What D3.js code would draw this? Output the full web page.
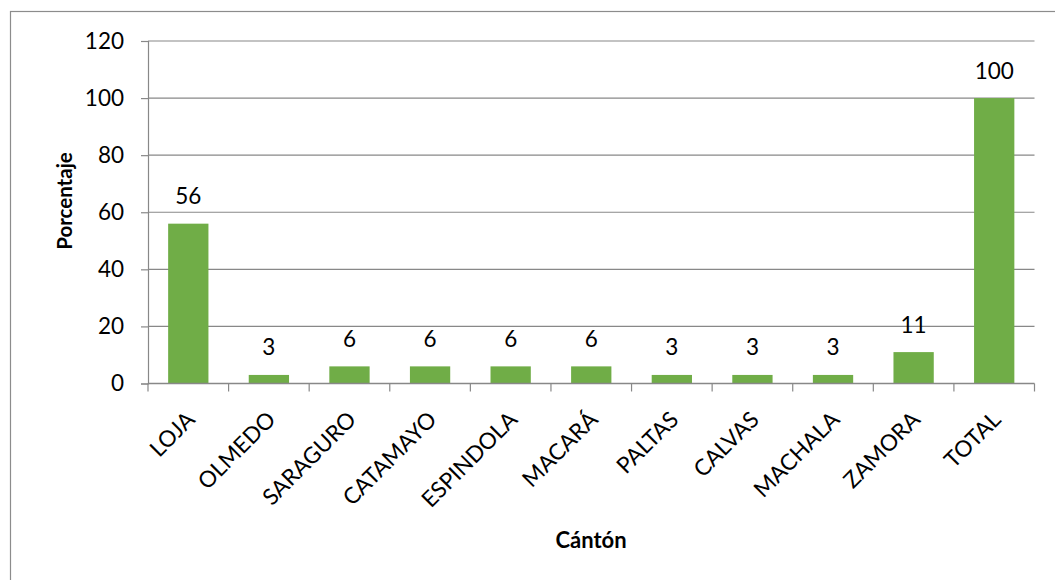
<!DOCTYPE html>
<html>
<head>
<meta charset="utf-8">
<script src="https://cdn.jsdelivr.net/npm/d3@7"></script>
<style>
  html, body { margin: 0; padding: 0; background: #fff; }
  svg { display: block; }
  text { font-family: Lato, "Open Sans", sans-serif; fill: #000; }
</style>
</head>
<body>
<div id="chart"></div>
<script>
// Percentage of respondents per canton
const categories = ["LOJA", "OLMEDO", "SARAGURO", "CATAMAYO", "ESPINDOLA", "MACARÁ",
                    "PALTAS", "CALVAS", "MACHALA", "ZAMORA", "TOTAL"];
const percentages = [56, 3, 6, 6, 6, 6, 3, 3, 3, 11, 100];
const yTicks = [0, 20, 40, 60, 80, 100, 120];
const xTitle = "Cántón";
const yTitle = "Porcentaje";

const width = 1055, height = 580;
const plot = { left: 148, right: 1034.5, top: 41, bottom: 383.5 };
const barColor = "#70AD47";
const gridColor = "#888888";

const svg = d3.select("#chart").append("svg")
  .attr("width", width).attr("height", height);

// chart frame
svg.append("rect")
  .attr("x", 10.5).attr("y", 11.5)
  .attr("width", width + 20).attr("height", height + 20)
  .attr("fill", "none").attr("stroke", "#8c8c8c").attr("stroke-width", 1.2);

const x = d3.scaleBand()
  .domain(categories)
  .range([plot.left, plot.right])
  .paddingInner(0.5)
  .paddingOuter(0.25);

const y = d3.scaleLinear()
  .domain([0, 120])
  .range([plot.bottom, plot.top]);

// horizontal gridlines
svg.append("g").selectAll("line")
  .data(yTicks.filter(d => d > 0))
  .join("line")
  .attr("x1", plot.left).attr("x2", plot.right)
  .attr("y1", d => y(d)).attr("y2", d => y(d))
  .attr("stroke", gridColor).attr("stroke-width", 1.2);

// y axis
const yAxis = svg.append("g")
  .attr("transform", `translate(${plot.left},0)`)
  .call(d3.axisLeft(y).tickValues(yTicks).tickSize(7).tickPadding(17));
yAxis.select(".domain").attr("stroke", gridColor).attr("stroke-width", 1.2);
yAxis.selectAll(".tick line").attr("stroke", gridColor).attr("stroke-width", 1.2);
yAxis.selectAll(".tick text")
  .attr("font-family", "Lato, sans-serif")
  .attr("font-size", 22.5).attr("fill", "#000");

// bars
svg.append("g").selectAll("rect")
  .data(categories.map((c, i) => ({ c, v: percentages[i] })))
  .join("rect")
  .attr("x", d => x(d.c))
  .attr("width", x.bandwidth())
  .attr("y", d => y(d.v))
  .attr("height", d => y(0) - y(d.v))
  .attr("fill", barColor);

// value labels
svg.append("g").selectAll("text")
  .data(categories.map((c, i) => ({ c, v: percentages[i] })))
  .join("text")
  .attr("x", d => x(d.c) + x.bandwidth() / 2)
  .attr("y", d => y(d.v) - 19.5)
  .attr("text-anchor", "middle")
  .attr("font-size", 22.5)
  .text(d => d3.format("d")(d.v));

// x axis line and category boundary ticks
const step = x.step();
const edges = d3.range(categories.length + 1).map(i => plot.left + i * step);
const xg = svg.append("g");
xg.append("line")
  .attr("x1", plot.left).attr("x2", plot.right)
  .attr("y1", y(0)).attr("y2", y(0))
  .attr("stroke", gridColor).attr("stroke-width", 1.5);
xg.selectAll("line.tick")
  .data(edges)
  .join("line").attr("class", "tick")
  .attr("x1", d => d).attr("x2", d => d)
  .attr("y1", y(0)).attr("y2", y(0) + 8)
  .attr("stroke", gridColor).attr("stroke-width", 1.2);

// rotated category labels
xg.selectAll("text")
  .data(categories)
  .join("text")
  .attr("transform", d => `translate(${x(d) + x.bandwidth() / 2 + 8},421) rotate(-45)`)
  .attr("text-anchor", "end")
  .attr("font-size", 22.5)
  .text(d => d);

// axis titles
svg.append("text")
  .attr("transform", "translate(72,201) rotate(-90)")
  .attr("text-anchor", "middle")
  .attr("font-size", 20.5).attr("font-weight", "bold")
  .text(yTitle);

svg.append("text")
  .attr("x", 591).attr("y", 548)
  .attr("text-anchor", "middle")
  .attr("font-size", 22).attr("font-weight", "bold")
  .text(xTitle);
</script>
</body>
</html>
